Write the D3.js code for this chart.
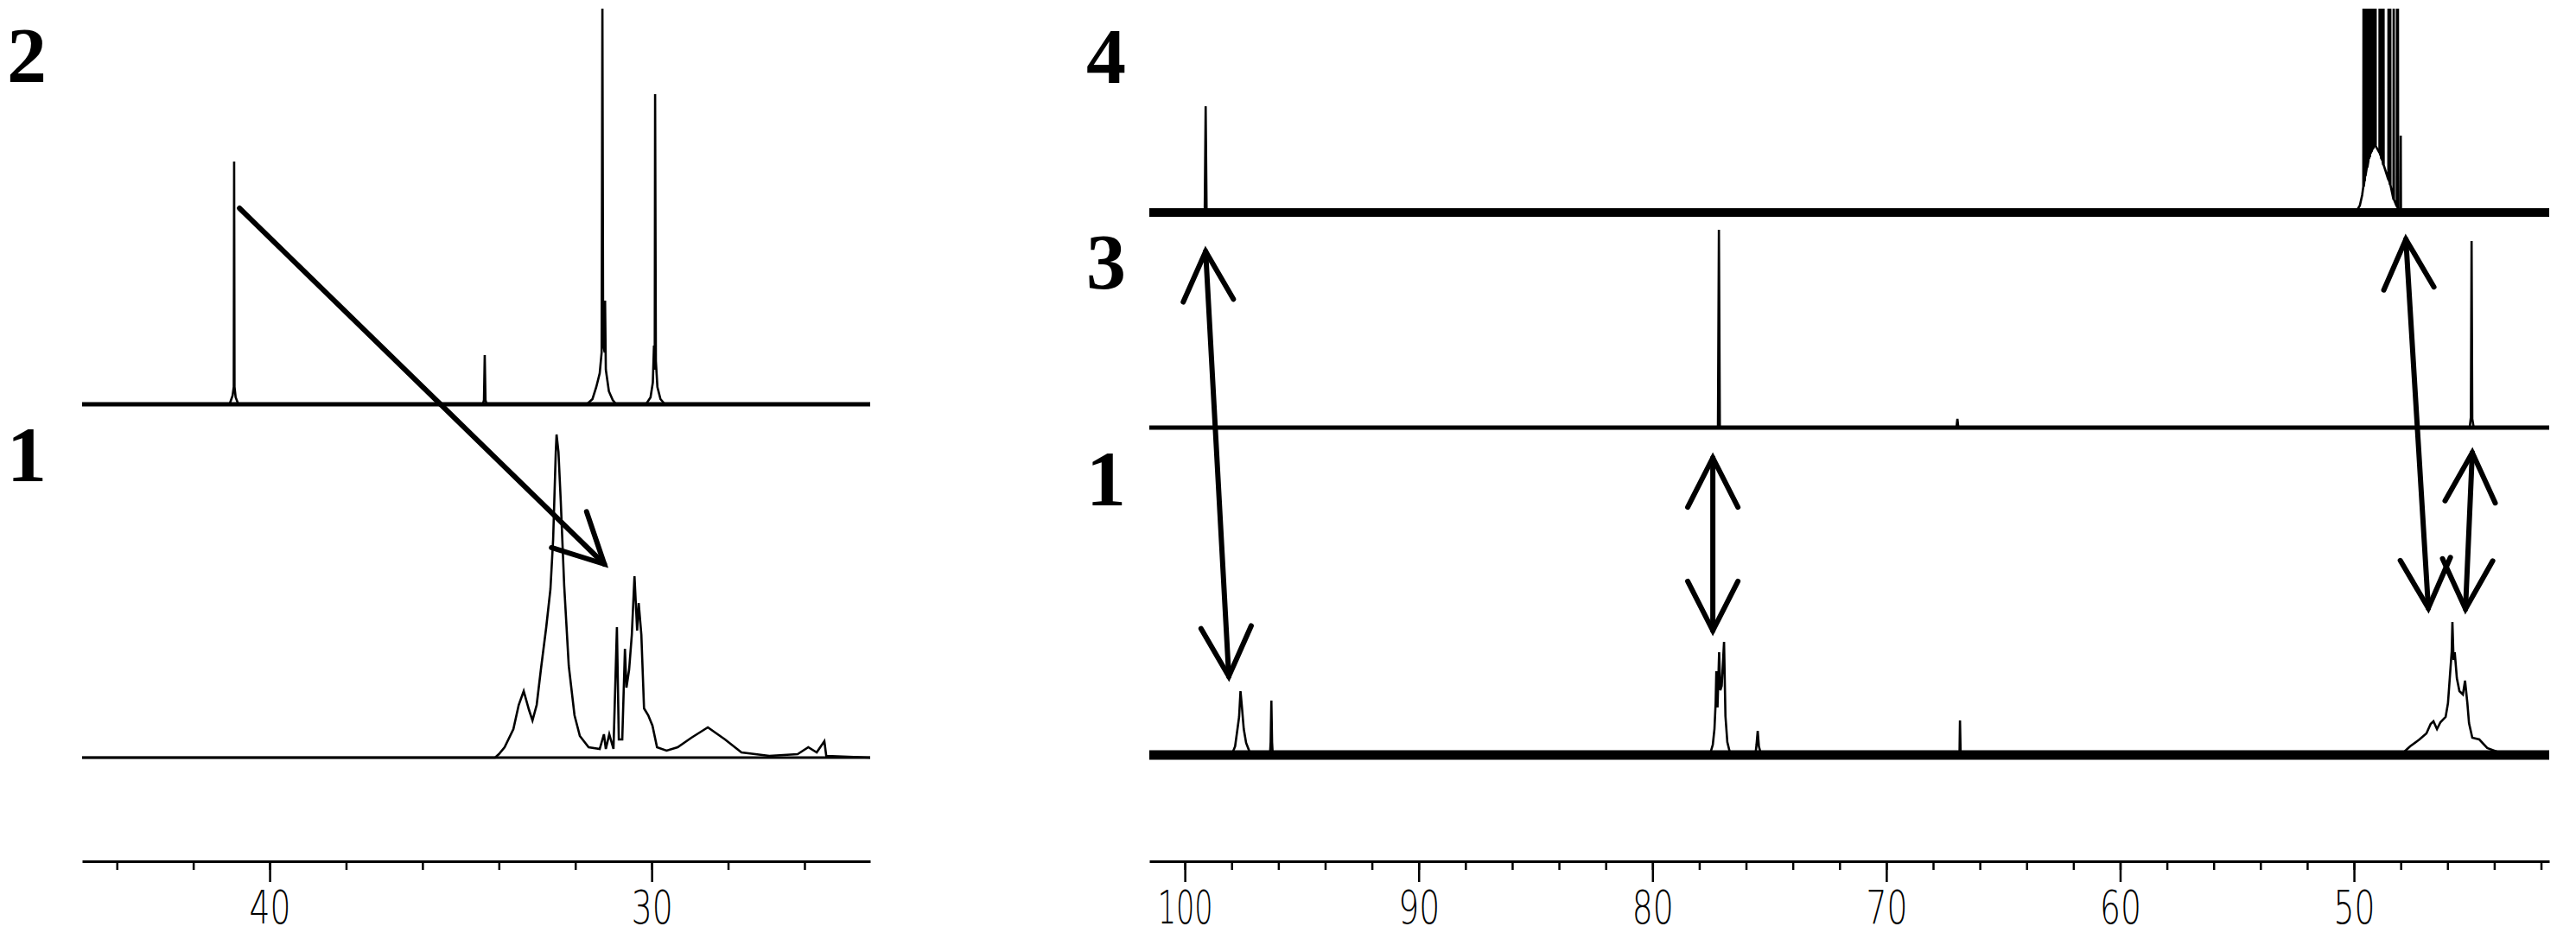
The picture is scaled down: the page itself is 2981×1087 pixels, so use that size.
<!DOCTYPE html>
<html><head><meta charset="utf-8">
<script src="https://cdn.jsdelivr.net/npm/d3@7"></script>
<style>body{margin:0;background:#fff}svg{display:block}</style>
</head><body>
<svg id="chart" width="2981" height="1087"></svg>
<script>
// ---------- DATA ----------
// chemical shift (ppm) axis ranges and ticks
const leftDomain = [44.91, 24.28];
const rightDomain = [101.52, 41.65];
const leftMajorTicks = [40, 30];
const leftMinorTicks = [44, 42, 40, 38, 36, 34, 32, 30, 28, 26];
const rightMajorTicks = [100, 90, 80, 70, 60, 50];
const rightMinorTicks = [100, 98, 96, 94, 92, 90, 88, 86, 84, 82, 80, 78, 76, 74, 72, 70, 68, 66, 64, 62, 60, 58, 56, 54, 52, 50, 48, 46, 44, 42];

// spectra: [ppm, intensity above own baseline]
const leftSpec2 = [[44.91,0],[41.05,0],[40.97,10],[40.94,20],[40.93,281],[40.92,20],[40.89,8],[40.82,0],
  [34.42,0],[34.39,5],[34.37,57],[34.35,5],[34.32,0],
  [31.70,0],[31.55,6],[31.45,20],[31.36,36],[31.31,60],[31.29,462],[31.27,70],[31.23,60],[31.22,120],[31.20,40],[31.12,15],[31.02,5],[30.93,0],
  [30.15,0],[30.03,8],[29.97,25],[29.94,68],[29.92,40],[29.91,359],[29.89,50],[29.85,20],[29.77,6],[29.65,0],[24.28,0]];
const leftSpec1 = [[44.91,0],[34.1,0],[34.0,4],[33.85,12],[33.62,33],[33.48,61],[33.35,77],[33.21,55],[33.12,43],[33.01,61],[32.9,102],
  [32.76,151],[32.65,195],[32.58,252],[32.51,354],[32.49,374],[32.44,354],[32.38,297],[32.29,199],[32.17,106],[32.02,49],[31.88,25],
  [31.65,12],[31.36,10],[31.25,27],[31.2,10],[31.11,27],[31.0,10],[30.91,151],[30.86,21],[30.77,21],[30.70,126],[30.66,81],[30.59,102],
  [30.52,142],[30.45,210],[30.38,147],[30.34,179],[30.27,142],[30.2,57],[30.09,49],[29.98,37],[29.86,12],[29.61,8],[29.32,12],
  [28.96,23],[28.53,35],[28.08,21],[27.65,6],[26.92,2],[26.18,4],[25.9,12],[25.68,6],[25.48,19],[25.43,2],[24.28,0]];
const rightSpec4 = [[101.52,0],[99.15,0],[99.11,123],[99.07,0],
  [49.93,0],[49.75,8],[49.65,20],[49.60,30],[49.59,320],[49.58,30],[49.56,35],[49.55,330],[49.54,36],[49.53,40],[49.52,330],[49.51,42],
  [49.45,52],[49.44,380],[49.43,52],[49.38,60],[49.37,400],[49.36,62],[49.34,64],[49.33,420],[49.32,64],
  [49.31,68],[49.30,450],[49.29,68],[49.27,70],[49.26,470],[49.25,70],[49.23,72],[49.22,500],[49.21,73],[49.19,74],[49.18,500],[49.17,74],
  [49.16,76],[49.15,520],[49.14,76],[49.12,77],[49.11,520],[49.10,77],[49.09,77],[49.08,500],[49.07,77],
  [48.91,69],[48.90,480],[48.89,68],[48.87,66],[48.86,480],[48.85,65],[48.83,62],[48.82,460],[48.81,62],[48.79,60],[48.78,440],[48.77,58],
  [48.75,55],[48.74,420],[48.73,55],
  [48.53,38],[48.52,380],[48.51,38],[48.50,36],[48.49,360],[48.48,35],[48.46,32],[48.45,350],[48.44,32],[48.31,15],[48.30,300],[48.29,15],
  [48.17,7],[48.16,270],[48.15,7],[48.13,5],[48.12,260],[48.11,5],[48.01,3],[48.00,89],[47.99,3],[47.85,0],[41.65,0]];
const rightSpec3 = [[101.52,0],[77.2,0],[77.16,229],[77.12,0],[67.0,0],[66.96,10],[66.92,0],
  [45.05,0],[45.0,12],[44.97,216],[44.94,10],[44.88,0],[41.65,0]];
const rightSpec1 = [[101.52,0],[98.0,0],[97.85,10],[97.75,30],[97.68,44],[97.62,74],[97.56,56],[97.48,30],[97.38,14],[97.25,5],[97.1,0],
  [96.36,0],[96.33,15],[96.30,63],[96.27,15],[96.24,0],
  [77.55,0],[77.42,12],[77.35,30],[77.30,60],[77.27,97],[77.22,55],[77.15,119],[77.10,75],[77.04,80],[76.94,131],[76.88,45],[76.80,15],[76.7,4],[76.6,0],
  [75.6,0],[75.55,12],[75.5,28],[75.45,10],[75.35,0],
  [66.87,0],[66.85,40],[66.82,0],
  [48.0,0],[47.6,10],[47.2,18],[46.9,25],[46.72,36],[46.6,39],[46.45,30],[46.3,38],[46.08,44],[45.98,60],[45.90,90],[45.82,120],[45.79,154],
  [45.74,110],[45.69,119],[45.60,89],[45.49,74],[45.34,70],[45.25,86],[45.15,60],[45.08,37],[44.94,20],[44.64,18],[44.3,8],[43.7,2],[43.2,0],[41.65,0]];

// series: label, panel, baseline offset (intensity units), noise half-amplitude
const seriesNames   = ["2", "1", "4", "3", "1"];
const seriesPanels  = ["L", "L", "R", "R", "R"];
const seriesData    = [leftSpec2, leftSpec1, rightSpec4, rightSpec3, rightSpec1];
const seriesOffsets = [529, 120, 751, 502, 123];
const seriesNoise   = [2.5, 1.5, 5, 2.5, 5.5];
const labelLevels   = [902, 440, 901, 663, 412];

// arrows: [panel, ppm1, level1, ppm2, level2, headAtStart, headAtEnd]
const arrows = [
  ["L", 40.79, 756, 31.24, 344, false, true],
  ["R", 99.11, 706, 98.12, 214, true, true],
  ["R", 77.42, 467, 77.42, 267, true, true],
  ["R", 47.78, 720, 46.82, 293, true, true],
  ["R", 44.94, 473, 45.23, 292, true, true]
];

// ---------- DRAW ----------
const svg = d3.select("#chart");
const W = 2981, H = 1087;
svg.append("rect").attr("width", W).attr("height", H).attr("fill", "#fff");

const x = {
  L: d3.scaleLinear().domain(leftDomain).range([95, 1007]),
  R: d3.scaleLinear().domain(rightDomain).range([1330, 2950])
};
const y = d3.scaleLinear().domain([0, 1000]).range([997, -3]);

svg.append("clipPath").attr("id", "clip")
  .append("rect").attr("x", 0).attr("y", 10).attr("width", W).attr("height", H - 10);

const plot = svg.append("g").attr("clip-path", "url(#clip)");

seriesData.forEach((data, i) => {
  const xs = x[seriesPanels[i]];
  const off = seriesOffsets[i];
  const amp = seriesNoise[i];
  const dom = xs.domain();
  // noise band
  plot.append("path")
    .datum(dom)
    .attr("d", d3.area().x(d => xs(d)).y0(y(off - amp)).y1(y(off + amp)))
    .attr("fill", "#000");
  // spectrum trace
  plot.append("path")
    .datum(data)
    .attr("d", d3.line().x(d => xs(d[0])).y(d => y(off + d[1])))
    .attr("fill", "none")
    .attr("stroke", "#000")
    .attr("stroke-width", 2.6)
    .attr("stroke-linejoin", "miter");
});

// axes
function drawAxis(scale, minor, major) {
  const gMinor = svg.append("g").attr("transform", `translate(0,${y(0)})`)
    .call(d3.axisBottom(scale).tickValues(minor).tickSize(10).tickSizeOuter(0).tickFormat(""));
  gMinor.select(".domain").attr("stroke-width", 3);
  gMinor.selectAll(".tick line").attr("stroke-width", 2.5);
  const gMajor = svg.append("g").attr("transform", `translate(0,${y(0)})`)
    .call(d3.axisBottom(scale).tickValues(major).tickSize(24).tickSizeOuter(0).tickFormat(d3.format("d")));
  gMajor.select(".domain").remove();
  gMajor.selectAll(".tick line").attr("stroke-width", 2.5);
  gMajor.attr("font-family", null).attr("font-size", null);
  gMajor.selectAll(".tick text")
    .attr("y", 72).attr("dy", null)
    .attr("font-family", "'DejaVu Sans', 'Liberation Sans', sans-serif")
    .attr("font-weight", 200)
    .attr("font-size", 53)
    .attr("textLength", d => String(d).length === 3 ? 64 : 48)
    .attr("lengthAdjust", "spacingAndGlyphs");
}
drawAxis(x.L, leftMinorTicks, leftMajorTicks);
drawAxis(x.R, rightMinorTicks, rightMajorTicks);

// arrows
const headLen = 64, headAng = 27 * Math.PI / 180;
function head(tx, ty, fx, fy) {
  const a = Math.atan2(fy - ty, fx - tx);
  const w1 = [tx + headLen * Math.cos(a + headAng), ty + headLen * Math.sin(a + headAng)];
  const w2 = [tx + headLen * Math.cos(a - headAng), ty + headLen * Math.sin(a - headAng)];
  return `M${w1[0]},${w1[1]}L${tx},${ty}L${w2[0]},${w2[1]}`;
}
const ag = svg.append("g").attr("stroke", "#000").attr("fill", "none")
  .attr("stroke-width", 6).attr("stroke-linecap", "round").attr("stroke-linejoin", "miter");
arrows.forEach(a => {
  const xs = x[a[0]];
  const x1 = xs(a[1]), y1 = y(a[2]), x2 = xs(a[3]), y2 = y(a[4]);
  ag.append("line").attr("x1", x1).attr("y1", y1).attr("x2", x2).attr("y2", y2);
  if (a[5]) ag.append("path").attr("d", head(x1, y1, x2, y2));
  if (a[6]) ag.append("path").attr("d", head(x2, y2, x1, y1));
});

// series labels
const labelX = { L: 8, R: 1257 };
seriesNames.forEach((t, i) => {
  svg.append("text")
    .attr("x", labelX[seriesPanels[i]])
    .attr("y", y(labelLevels[i]))
    .attr("font-family", "'Liberation Serif', 'Times New Roman', serif")
    .attr("font-weight", "bold")
    .attr("font-size", 92)
    .attr("fill", "#000")
    .text(t);
});
</script>
</body></html>
